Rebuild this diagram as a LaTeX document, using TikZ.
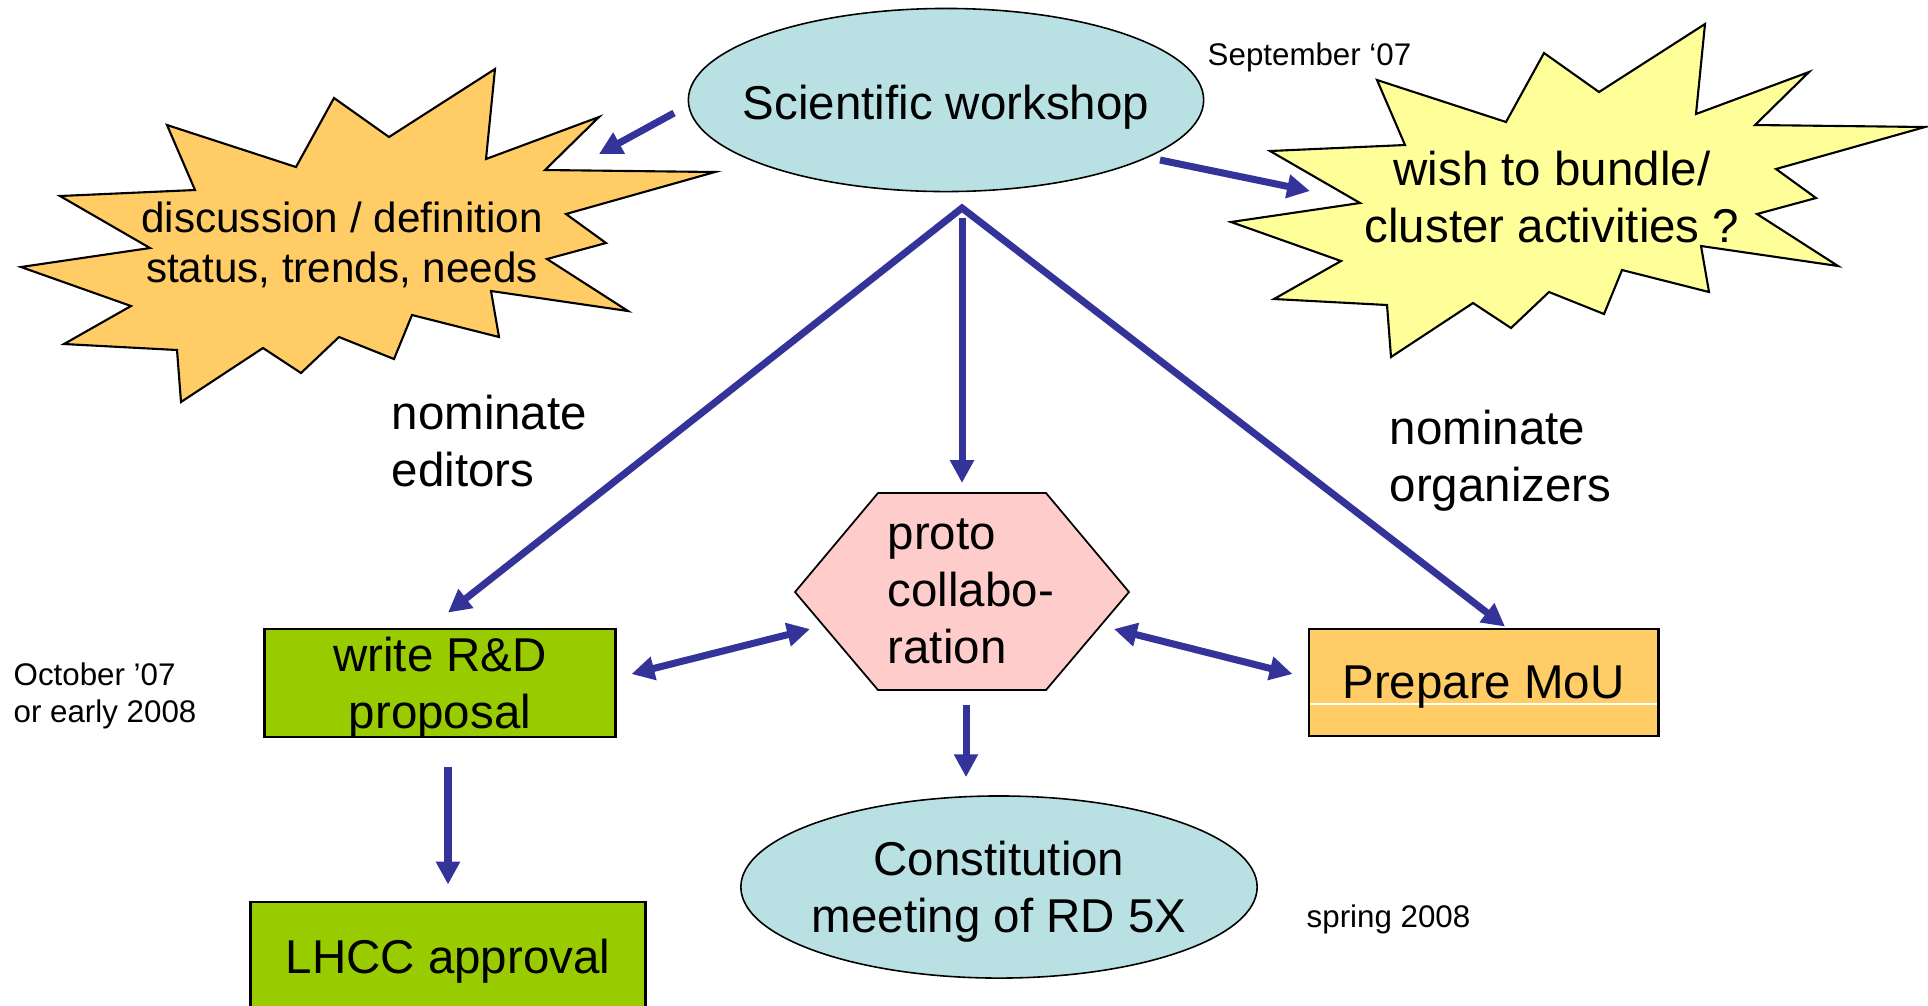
\documentclass[tikz,border=0pt]{standalone}
\usepackage{fontspec}
\setmainfont{Liberation Sans}
\usepackage{xcolor}
\usepackage{tikz}
\usetikzlibrary{arrows.meta,shapes.geometric}
\definecolor{arrowblue}{HTML}{333399}
\definecolor{skyfill}{HTML}{B9E0E2}
\definecolor{peachfill}{HTML}{FFCC66}
\definecolor{lemonfill}{HTML}{FFFF99}
\definecolor{limefill}{HTML}{99CC00}
\definecolor{rosefill}{HTML}{FFCCCC}

% explosion outline, #1 = shift, #2 = fill colour
\newcommand{\burst}[2]{%
  \filldraw[shift={(#1)}, fill=#2, draw=black, line width=0.6pt, line join=miter]
    (495,69) -- (486,159) -- (599,117) -- (545,170) -- (715,172) -- (566,214) -- (606,243)
    -- (547,259) -- (628,311) -- (491,291) -- (499,337) -- (412,315) -- (394,359) -- (339,337)
    -- (301,373) -- (263,348) -- (181,402) -- (177,350) -- (64,344) -- (131,306) -- (21,267)
    -- (150,248) -- (60,196) -- (195,190) -- (167,125) -- (296,167) -- (334,98) -- (389,137) -- cycle;
}

\begin{document}
\begin{tikzpicture}[x=0.01cm, y=-0.01cm,
  big/.style={font=\fontsize{13.5}{16.2}\selectfont},
  tiny/.style={font=\fontsize{8.9}{10.5}\selectfont},
  bubble/.style={ellipse, draw=black, line width=0.45pt, fill=skyfill, inner sep=0pt,
    minimum width=5.15cm, minimum height=1.83cm},
  box/.style={rectangle, draw=black, line width=0.8pt, inner sep=0pt, align=center, big},
  arr/.style={draw=arrowblue, line width=2pt, -{Triangle[length=6.5pt,width=6.5pt]}},
  twoway/.style={arr, {Triangle[length=6.5pt,width=6.5pt]}-{Triangle[length=6.5pt,width=6.5pt]}}]

  \useasboundingbox (0,0) rectangle (1928,1005);

  % Stars
  \burst{0,0}{peachfill}
  \burst{1210,-45}{lemonfill}
  \node[font=\fontsize{12}{14.2}\selectfont, align=center] (disc) at (342,245) {discussion / definition\\status, trends, needs};
  \node[big, align=center] (wish) at (1552,197) {wish to bundle/\\cluster activities ?};

  % Hexagon
  \coordinate (hw) at (795,592);
  \coordinate (hnw) at (878,493);
  \coordinate (hne) at (1046,493);
  \coordinate (he) at (1129,592);
  \coordinate (hse) at (1046,690);
  \coordinate (hsw) at (878,690);
  \filldraw[fill=rosefill, draw=black, line width=0.5pt] (hw) -- (hnw) -- (hne) -- (he) -- (hse) -- (hsw) -- cycle;
  \node[big, align=left, anchor=west, inner sep=0pt] (proto) at (887,591) {proto\\collabo-\\ration};

  % Ellipses
  \node[bubble] (sci) at (946,100) {};
  \node[big] (scitext) at (946,107) {Scientific workshop};
  \node[bubble, minimum width=5.16cm, minimum height=1.82cm] (const) at (999,887) {};
  \node[big, align=center] (consttext) at (999,892) {Constitution\\meeting of RD 5X};

  % Boxes
  \node[box, fill=limefill, minimum width=3.5cm, minimum height=1.08cm, text depth=0pt] (rd) at (440,683) {write R\&D\\proposal};
  \node[box, fill=limefill, minimum width=3.94cm, minimum height=1.18cm] (lhcc) at (448,961) {LHCC approval};
  \node[box, fill=peachfill, minimum width=3.49cm, minimum height=1.07cm, text depth=0pt,
    path picture={\draw[white, line width=0.4pt] ([shift={(0,21.5)}]path picture bounding box.west) -- ([shift={(0,21.5)}]path picture bounding box.east);}] (mou) at (1483.5,682.5) {Prepare MoU};

  % Dates and notes
  \node[tiny, anchor=base west, inner sep=0pt] (sept) at (1207,65) {September ‘07};
  \node[tiny, anchor=north west, inner sep=0pt, align=left] (oct) at (13,662) {October ’07\\or early 2008};
  \node[tiny, anchor=base west, inner sep=0pt] (spring) at (1306,927) {spring 2008};
  \node[big, anchor=north west, inner sep=0pt, align=left] (editors) at (391,394) {nominate\\editors};
  \node[big, anchor=north west, inner sep=0pt, align=left] (organizers) at (1389,409) {nominate\\organizers};

  % Connections
  \coordinate (apex) at ([shift={(16,108)}]sci.center);
  \draw[arr] ([shift={(-13.5,13)}]sci.west) -- ([shift={(257,-91)}]disc.center);
  \draw[arr] ([shift={(214,60)}]sci.center) -- ([shift={(-242,-6)}]wish.center);
  \draw[twoway] ([shift={(8,-15)}]rd.north) -- (apex) -- ([shift={(21.5,-1)}]mou.north);
  \draw[arr] ([shift={(0,10)}]apex) -- ([shift={(84,-10)}]hnw);
  \draw[twoway] ([shift={(15,-9)}]rd.east) -- ([shift={(15,37)}]hw);
  \draw[twoway] ([shift={(-15,37)}]he) -- ([shift={(-15,-8.5)}]mou.west);
  \draw[arr] ([shift={(88,15)}]hsw) -- ([shift={(-33,-18)}]const.north);
  \draw[arr] ([shift={(8,29)}]rd.south) -- ([shift={(0,-16)}]lhcc.north);
\end{tikzpicture}
\end{document}
